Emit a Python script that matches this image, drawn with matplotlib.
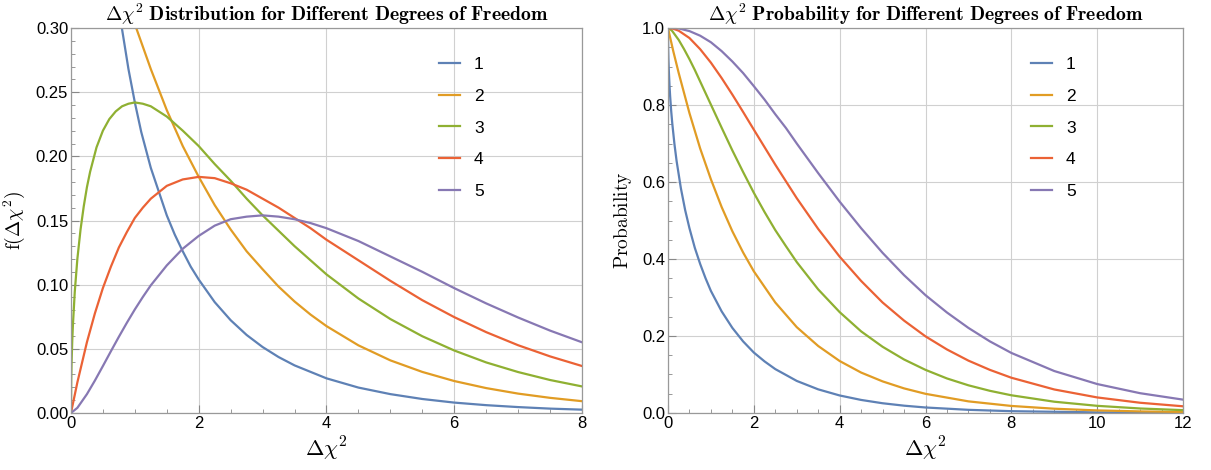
import matplotlib
matplotlib.use('Agg')
import matplotlib.pyplot as plt
from matplotlib.ticker import MultipleLocator

plt.rcParams['mathtext.fontset'] = 'cm'
plt.rcParams['font.family'] = ['Liberation Sans', 'DejaVu Sans']

dof_labels = ['1', '2', '3', '4', '5']
colors = ['#5E81B5', '#E19C24', '#8FB032', '#EB6235', '#8778B3']

# left panel: density f(dchi2)
pdf_x1 = [0.3, 0.4, 0.5, 0.6, 0.7, 0.8, 0.9, 1.0, 1.1, 1.25, 1.5, 1.625, 1.75, 1.875, 2.0, 2.25, 2.5, 2.75,
          3.0, 3.25, 3.5, 4.0, 4.5, 5.0, 5.5, 6.0, 6.5, 7.0, 7.5, 8.0]
pdf_y1 = [0.627, 0.517, 0.439, 0.382, 0.336, 0.299, 0.268, 0.242, 0.219, 0.191, 0.154, 0.139, 0.126, 0.114,
          0.104, 0.0864, 0.0723, 0.0608, 0.0514, 0.0436, 0.0371, 0.0270, 0.0198, 0.0147, 0.0109, 0.0081,
          0.0061, 0.0046, 0.0034, 0.0026]
pdf_x2 = [0.0, 0.25, 0.5, 0.75, 1.0, 1.25, 1.5, 1.75, 2.0, 2.25, 2.5, 2.75, 3.0, 3.25, 3.5, 3.75, 4.0, 4.5,
          5.0, 5.5, 6.0, 6.5, 7.0, 7.5, 8.0]
pdf_y2 = [0.5, 0.441, 0.389, 0.344, 0.303, 0.268, 0.236, 0.208, 0.184, 0.162, 0.143, 0.126, 0.112, 0.0985,
          0.0869, 0.0767, 0.0677, 0.0527, 0.0410, 0.0320, 0.0249, 0.0194, 0.0151, 0.0118, 0.0092]
pdf_x3 = [0.0, 0.004, 0.01, 0.02, 0.03, 0.06, 0.1, 0.15, 0.2, 0.25, 0.3, 0.4, 0.5, 0.6, 0.7, 0.8, 0.9, 1.0,
          1.125, 1.25, 1.5, 1.75, 2.0, 2.25, 2.5, 2.75, 3.0, 3.25, 3.5, 3.75, 4.0, 4.5, 5.0, 5.5, 6.0,
          6.5, 7.0, 7.5, 8.0]
pdf_y3 = [0.0, 0.0252, 0.0397, 0.0559, 0.0681, 0.0948, 0.120, 0.143, 0.161, 0.176, 0.188, 0.207, 0.220,
          0.229, 0.235, 0.239, 0.241, 0.242, 0.241, 0.239, 0.231, 0.220, 0.208, 0.194, 0.181, 0.167,
          0.154, 0.142, 0.130, 0.119, 0.108, 0.0892, 0.0732, 0.0598, 0.0487, 0.0394, 0.0319, 0.0257,
          0.0207]
pdf_x4 = [0.0, 0.1, 0.25, 0.375, 0.5, 0.625, 0.75, 0.875, 1.0, 1.125, 1.25, 1.5, 1.75, 2.0, 2.25, 2.5,
          2.75, 3.0, 3.25, 3.5, 3.75, 4.0, 4.5, 5.0, 5.5, 6.0, 6.5, 7.0, 7.5, 8.0]
pdf_y4 = [0.0, 0.0238, 0.0552, 0.0777, 0.0974, 0.114, 0.129, 0.141, 0.152, 0.160, 0.167, 0.177, 0.182,
          0.184, 0.183, 0.179, 0.174, 0.167, 0.160, 0.152, 0.144, 0.135, 0.119, 0.103, 0.0879, 0.0747,
          0.0630, 0.0528, 0.0441, 0.0366]
pdf_x5 = [0.0, 0.1, 0.25, 0.375, 0.5, 0.625, 0.75, 0.875, 1.0, 1.125, 1.25, 1.5, 1.75, 2.0, 2.25, 2.5,
          2.75, 3.0, 3.25, 3.5, 3.75, 4.0, 4.5, 5.0, 5.5, 6.0, 6.5, 7.0, 7.5, 8.0]
pdf_y5 = [0.0, 0.0040, 0.0147, 0.0253, 0.0366, 0.0481, 0.0594, 0.0703, 0.0807, 0.0904, 0.0995, 0.115,
          0.128, 0.138, 0.146, 0.151, 0.153, 0.154, 0.153, 0.151, 0.148, 0.144, 0.134, 0.122, 0.110,
          0.0973, 0.0854, 0.0744, 0.0642, 0.0551]

# right panel: probability of exceeding dchi2
prob_x1 = [0.0, 0.005, 0.01, 0.02, 0.035, 0.05, 0.075, 0.1, 0.15, 0.2, 0.3, 0.4, 0.5, 0.625, 0.75, 0.875,
           1.0, 1.25, 1.5, 1.75, 2.0, 2.25, 2.5, 2.75, 3.0, 3.5, 4.0, 4.5, 5.0, 5.5, 6.0, 7.0, 8.0,
           10.0, 12.0]
prob_y1 = [1.0, 0.944, 0.920, 0.888, 0.852, 0.823, 0.784, 0.752, 0.699, 0.655, 0.584, 0.527, 0.480,
           0.429, 0.387, 0.350, 0.317, 0.264, 0.221, 0.186, 0.157, 0.134, 0.114, 0.0987, 0.0833,
           0.0614, 0.0455, 0.0339, 0.0253, 0.0190, 0.0143, 0.0082, 0.0047, 0.0016, 0.0005]
prob_x2 = [0.0, 0.125, 0.25, 0.5, 0.75, 1.0, 1.25, 1.5, 1.75, 2.0, 2.5, 3.0, 3.5, 4.0, 4.5, 5.0, 5.5,
           6.0, 7.0, 8.0, 9.0, 10.0, 11.0, 12.0]
prob_y2 = [1.0, 0.939, 0.883, 0.779, 0.687, 0.607, 0.535, 0.472, 0.417, 0.368, 0.287, 0.223, 0.174,
           0.135, 0.105, 0.0821, 0.0639, 0.0498, 0.0302, 0.0183, 0.0111, 0.0067, 0.0041, 0.0025]
prob_x3 = [0.0, 0.05, 0.1, 0.25, 0.375, 0.5, 0.625, 0.75, 0.875, 1.0, 1.25, 1.5, 1.75, 2.0, 2.25, 2.5,
           2.75, 3.0, 3.5, 4.0, 4.5, 5.0, 5.5, 6.0, 6.5, 7.0, 7.5, 8.0, 9.0, 10.0, 11.0, 12.0]
prob_y3 = [1.0, 0.997, 0.992, 0.969, 0.945, 0.919, 0.891, 0.861, 0.831, 0.801, 0.741, 0.682, 0.626,
           0.572, 0.522, 0.475, 0.433, 0.392, 0.321, 0.262, 0.212, 0.172, 0.139, 0.112, 0.0897,
           0.0719, 0.0576, 0.0460, 0.0293, 0.0186, 0.0117, 0.0074]
prob_x4 = [0.0, 0.125, 0.25, 0.5, 0.75, 1.0, 1.25, 1.5, 1.75, 2.0, 2.5, 3.0, 3.5, 4.0, 4.5, 5.0, 5.5, 6.0,
           6.5, 7.0, 7.5, 8.0, 9.0, 10.0, 11.0, 12.0]
prob_y4 = [1.0, 0.998, 0.993, 0.974, 0.945, 0.910, 0.870, 0.827, 0.782, 0.736, 0.645, 0.558, 0.478,
           0.406, 0.343, 0.287, 0.240, 0.199, 0.165, 0.136, 0.112, 0.0916, 0.0611, 0.0404, 0.0266,
           0.0174]
prob_x5 = [0.0, 0.125, 0.25, 0.5, 0.75, 1.0, 1.25, 1.5, 1.75, 2.0, 2.25, 2.5, 2.75, 3.0, 3.5, 4.0, 4.5,
           5.0, 5.5, 6.0, 6.5, 7.0, 7.5, 8.0, 9.0, 10.0, 11.0, 12.0]
prob_y5 = [1.0, 1.0, 0.999, 0.992, 0.980, 0.963, 0.940, 0.913, 0.883, 0.849, 0.814, 0.776, 0.740, 0.700,
           0.623, 0.549, 0.480, 0.416, 0.358, 0.306, 0.261, 0.221, 0.186, 0.156, 0.109, 0.0752,
           0.0514, 0.0347]

pdf_x = [pdf_x1, pdf_x2, pdf_x3, pdf_x4, pdf_x5]
pdf_y = [pdf_y1, pdf_y2, pdf_y3, pdf_y4, pdf_y5]
prob_x = [prob_x1, prob_x2, prob_x3, prob_x4, prob_x5]
prob_y = [prob_y1, prob_y2, prob_y3, prob_y4, prob_y5]

fig = plt.figure(figsize=(12.11, 4.70), dpi=100)
ax1 = fig.add_axes([0.0586, 0.1213, 0.4220, 0.8191])
ax2 = fig.add_axes([0.5516, 0.1213, 0.4253, 0.8191])


def style(ax, xmax, xmaj, ymax, ymaj, ymin_step, yfmt):
    ax.set_xlim(0, xmax)
    ax.set_ylim(0, ymax)
    ax.xaxis.set_major_locator(MultipleLocator(xmaj))
    ax.xaxis.set_minor_locator(MultipleLocator(0.5))
    ax.yaxis.set_major_locator(MultipleLocator(ymaj))
    ax.yaxis.set_minor_locator(MultipleLocator(ymin_step))
    ax.yaxis.set_major_formatter(plt.FormatStrFormatter(yfmt))
    ax.xaxis.set_major_formatter(plt.FormatStrFormatter('%d'))
    ax.grid(True, which='major', color='#d0d0d0', lw=0.8)
    ax.tick_params(which='both', direction='in', color='#888888', labelsize=12, pad=2)
    ax.tick_params(which='major', length=6)
    ax.tick_params(which='minor', length=3)
    for s in ax.spines.values():
        s.set_color('#999999')
        s.set_linewidth(0.9)

for i in range(5):
    ax1.plot(pdf_x[i], pdf_y[i], color=colors[i], lw=1.6, label=dof_labels[i])
    ax2.plot(prob_x[i], prob_y[i], color=colors[i], lw=1.6, label=dof_labels[i])

style(ax1, 8, 2, 0.30, 0.05, 0.01, '%.2f')
style(ax2, 12, 2, 1.0, 0.2, 0.05, '%.1f')

ax1.set_title(r'$\mathbf{\Delta}\chi^{2}\ \mathbf{Distribution\ for\ Different\ Degrees\ of\ Freedom}$',
              fontsize=14.2, pad=5)
ax2.set_title(r'$\mathbf{\Delta}\chi^{2}\ \mathbf{Probability\ for\ Different\ Degrees\ of\ Freedom}$',
              fontsize=14.2, pad=5)
ax1.set_xlabel(r'$\Delta\chi^2$', fontsize=16, labelpad=3)
ax2.set_xlabel(r'$\Delta\chi^2$', fontsize=16, labelpad=3)
ax1.set_ylabel(r'$\mathrm{f}(\Delta\chi^2)$', fontsize=14, labelpad=6)
ax2.set_ylabel(r'$\mathrm{Probability}$', fontsize=14, labelpad=6)

for ax, anchor in ((ax1, (0.69, 0.965)), (ax2, (0.675, 0.965))):
    ax.legend(loc='upper left', bbox_to_anchor=anchor, frameon=False, fontsize=12.5,
              handlelength=1.2, handletextpad=0.8, labelspacing=0.95)

fig.savefig('out.png', dpi=100)
